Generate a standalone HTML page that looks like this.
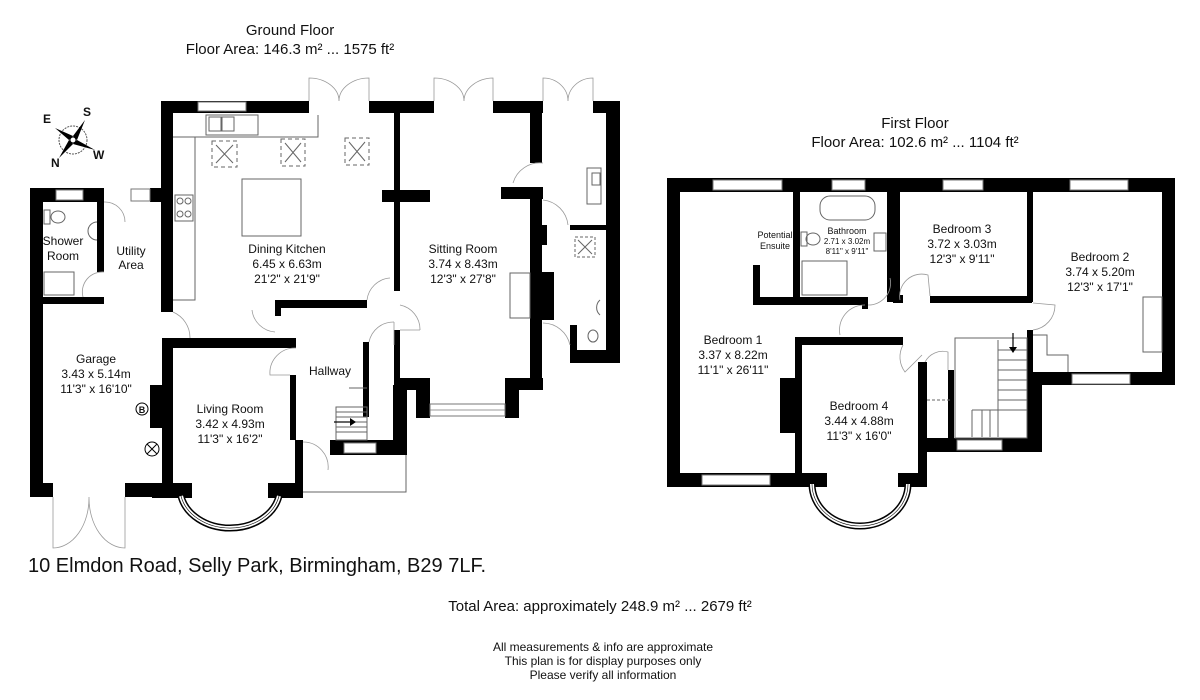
<!DOCTYPE html>
<html><head><meta charset="utf-8"><style>
html,body{margin:0;padding:0;background:#fff;}
svg{display:block;}
text{font-family:"Liberation Sans",Arial,sans-serif;fill:#111;}
.w{fill:#000;}
.win{fill:#fff;stroke:#777;stroke-width:1;}
.d{fill:none;stroke:#999;stroke-width:0.8;}
.t{fill:none;stroke:#666;stroke-width:1;}
</style></head><body>
<svg width="1200" height="700" viewBox="0 0 1200 700" xmlns="http://www.w3.org/2000/svg">
<rect width="1200" height="700" fill="#fff"/>
<!-- Titles -->
<text x="290" y="35" font-size="15" text-anchor="middle">Ground Floor</text>
<text x="290" y="54" font-size="15" text-anchor="middle">Floor Area: 146.3 m² ... 1575 ft²</text>
<text x="915" y="128" font-size="15" text-anchor="middle">First Floor</text>
<text x="915" y="147" font-size="15" text-anchor="middle">Floor Area: 102.6 m² ... 1104 ft²</text>
<text x="28" y="572" font-size="20">10 Elmdon Road, Selly Park, Birmingham, B29 7LF.</text>
<text x="600" y="611" font-size="15" text-anchor="middle">Total Area: approximately 248.9 m² ... 2679 ft²</text>
<text x="603" y="651" font-size="12" text-anchor="middle">All measurements &amp; info are approximate</text>
<text x="603" y="665" font-size="12" text-anchor="middle">This plan is for display purposes only</text>
<text x="603" y="679" font-size="12" text-anchor="middle">Please verify all information</text>

<!-- Compass -->
<g transform="translate(73,140)">
<circle r="14" fill="none" stroke="#555" stroke-width="1" stroke-dasharray="2,1"/>
<polygon points="0,-4 -18,-12 -4,0" fill="#000"/>
<polygon points="0,-4 12,-20 4,0" fill="#000"/>
<polygon points="4,0 22,10 0,4" fill="#000"/>
<polygon points="0,4 -14,18 -4,0" fill="#000"/>
<circle r="3" fill="#fff" stroke="#000"/>
<text x="-30" y="-17" font-size="12" font-weight="bold" font-family="Liberation Serif">E</text>
<text x="10" y="-24" font-size="12" font-weight="bold" font-family="Liberation Serif">S</text>
<text x="-22" y="27" font-size="12" font-weight="bold" font-family="Liberation Serif">N</text>
<text x="20" y="19" font-size="12" font-weight="bold" font-family="Liberation Serif">W</text>
</g>

<!-- ================= GROUND FLOOR ================= -->
<!-- top walls -->
<rect class="w" x="161" y="101" width="148" height="12"/>
<rect class="win" x="198" y="102" width="48" height="9"/>
<rect class="w" x="369" y="101" width="31" height="12"/>
<rect class="w" x="399" y="101" width="35" height="12"/>
<rect class="w" x="493" y="101" width="50" height="12"/>
<rect class="w" x="593" y="101" width="27" height="12"/>
<!-- french doors -->
<path class="d" d="M309,101 L309,78 A30,23 0 0 1 339,101 M369,101 L369,78 A30,23 0 0 0 339,101"/>
<path class="d" d="M434,101 L434,78 A30,23 0 0 1 464,101 M493,101 L493,78 A30,23 0 0 0 464,101"/>
<path class="d" d="M543,101 L543,78 A25,23 0 0 1 568,101 M593,101 L593,78 A25,23 0 0 0 568,101"/>
<!-- kitchen left wall -->
<rect class="w" x="161" y="101" width="12" height="211"/>
<!-- utility top -->
<rect class="w" x="150" y="188" width="12" height="14"/>
<rect class="win" x="131" y="189" width="19" height="12"/>
<!-- kitchen/sitting -->
<rect class="w" x="382" y="190" width="48" height="12"/>
<rect class="w" x="394" y="101" width="6" height="190"/>
<rect class="w" x="394" y="330" width="6" height="70"/>
<!-- sitting right wall -->
<rect class="w" x="530" y="101" width="12" height="62"/>
<rect class="w" x="501" y="187" width="42" height="12"/>
<rect class="w" x="530" y="190" width="12" height="200"/>
<rect class="w" x="542" y="272" width="12" height="48"/>
<!-- annex -->
<rect class="w" x="606" y="101" width="14" height="262"/>
<rect class="w" x="570" y="225" width="50" height="5"/>
<rect class="w" x="570" y="350" width="50" height="13"/>
<rect class="w" x="570" y="325" width="7" height="38"/>
<rect class="w" x="542" y="225" width="5" height="20"/>
<path class="d" d="M543,163 A28,28 0 0 0 513,183 M543,200 A28,28 0 0 1 568,225 M543,323 A28,28 0 0 1 570,345"/>
<rect class="t" x="587" y="168" width="14" height="36"/>
<rect class="t" x="592" y="173" width="8" height="12"/>
<rect class="t" x="575" y="237" width="20" height="20" stroke-dasharray="3,2"/>
<path class="t" d="M578,240 L592,254 M592,240 L578,254"/>
<ellipse class="t" cx="593" cy="336" rx="5" ry="6"/>
<path class="t" d="M600,300 A10,10 0 0 0 600,315"/>
<!-- sitting bottom & bay -->
<rect class="w" x="399" y="378" width="31" height="12"/>
<rect class="w" x="505" y="378" width="38" height="12"/>
<rect class="w" x="416" y="388" width="14" height="30"/>
<rect class="w" x="505" y="388" width="14" height="30"/>
<rect class="win" x="430" y="404" width="75" height="12"/>
<line x1="430" y1="410" x2="505" y2="410" stroke="#777" stroke-width="0.8"/>
<rect class="t" x="510" y="273" width="20" height="45"/>
<!-- kitchen fittings -->
<rect class="t" x="206" y="115" width="52" height="20"/>
<rect class="t" x="209" y="117" width="12" height="14"/><rect class="t" x="222" y="117" width="12" height="14"/>
<path class="t" d="M173,137 L318,137 L318,115 M195,137 L195,300 L173,300"/>
<rect class="t" x="175" y="195" width="18" height="26"/>
<circle class="t" cx="180" cy="201" r="3"/><circle class="t" cx="188" cy="201" r="3"/>
<circle class="t" cx="180" cy="214" r="3"/><circle class="t" cx="188" cy="214" r="3"/>
<rect class="t" x="242" y="179" width="59" height="57"/>
<g class="t" stroke-dasharray="4,3">
<rect x="212" y="141" width="25" height="26"/><rect x="281" y="139" width="24" height="27"/><rect x="345" y="138" width="24" height="27"/>
</g>
<path class="t" d="M216,145 L233,163 M233,145 L216,163 M285,143 L301,162 M301,143 L285,162 M349,142 L365,161 M365,142 L349,161"/>
<!-- kitchen/hallway wall -->
<rect class="w" x="275" y="300" width="92" height="8"/>
<rect class="w" x="275" y="300" width="6" height="16"/>
<path class="d" d="M367,300 A25,25 0 0 1 390,278 M252,310 A25,25 0 0 0 275,332 M173,312 A28,28 0 0 1 190,338 M400,305 A25,25 0 0 1 420,330 M400,330 L420,330"/>
<!-- living room -->
<rect class="w" x="162" y="338" width="134" height="10"/>
<rect class="w" x="162" y="338" width="11" height="159"/>
<rect class="w" x="290" y="375" width="6" height="65"/>
<rect class="w" x="295" y="440" width="8" height="52"/>
<rect class="w" x="150" y="385" width="12" height="43"/>
<rect class="w" x="152" y="483" width="40" height="15"/>
<rect class="w" x="268" y="483" width="35" height="15"/>
<path d="M181,496 A50,40 0 0 0 279,496" fill="none" stroke="#000" stroke-width="7"/>
<path d="M181,496 A50,40 0 0 0 279,496" fill="none" stroke="#fff" stroke-width="4"/>
<path d="M181,496 A50,40 0 0 0 279,496" fill="none" stroke="#000" stroke-width="0.6"/>
<path class="d" d="M296,348 A25,25 0 0 0 270,375 L290,375 M303,442 A25,25 0 0 1 328,470"/>
<!-- hallway / stairs -->
<rect class="w" x="363" y="342" width="6" height="75"/>
<rect class="w" x="393" y="385" width="14" height="70"/>
<rect class="w" x="330" y="440" width="77" height="15"/>
<rect class="win" x="344" y="443" width="32" height="10"/>
<rect class="t" x="336" y="407" width="31" height="33"/>
<path class="t" d="M336,412 H367 M336,417 H367 M336,422 H367 M336,427 H367 M336,432 H367 M349,388 H367"/>
<path d="M334,422 L350,422" stroke="#000" stroke-width="1.2"/>
<polygon points="350,418 356,422 350,426"/>
<path class="t" d="M303,492 L406,492 L406,455"/>
<path class="d" d="M369,342 A25,25 0 0 1 394,322 M394,322 L394,345"/>
<!-- garage & shower -->
<rect class="w" x="30" y="188" width="13" height="309"/>
<rect class="w" x="30" y="188" width="74" height="14"/>
<rect class="win" x="56" y="190" width="27" height="10"/>
<rect class="w" x="97" y="188" width="7" height="84"/>
<rect class="w" x="40" y="297" width="64" height="7"/>
<rect class="w" x="30" y="483" width="23" height="14"/>
<rect class="w" x="125" y="483" width="37" height="14"/>
<path class="d" d="M53,497 L53,548 A36,50 0 0 0 89,497 M125,497 L125,548 A36,50 0 0 1 89,497"/>
<path class="d" d="M104,202 A20,20 0 0 1 125,222 M104,272 A20,20 0 0 0 83,297"/>
<rect class="t" x="44" y="272" width="30" height="23"/>
<ellipse class="t" cx="58" cy="217" rx="7" ry="6"/><rect class="t" x="44" y="210" width="6" height="14"/>
<path class="t" d="M97,222 A8,8 0 0 0 97,240"/>
<circle cx="142" cy="409" r="6" fill="#fff" stroke="#000"/>
<text x="142" y="413" font-size="9" font-weight="bold" text-anchor="middle">B</text>
<circle cx="152" cy="449" r="7" fill="#fff" stroke="#000"/>
<path d="M147,444 L157,454 M157,444 L147,454" stroke="#000"/>

<!-- ground labels -->
<g font-size="12" text-anchor="middle">
<text x="63" y="245">Shower</text><text x="63" y="260">Room</text>
<text x="131" y="255">Utility</text><text x="131" y="269">Area</text>
<text x="287" y="253">Dining Kitchen</text><text x="287" y="268">6.45 x 6.63m</text><text x="287" y="283">21'2" x 21'9"</text>
<text x="463" y="253">Sitting Room</text><text x="463" y="268">3.74 x 8.43m</text><text x="463" y="283">12'3" x 27'8"</text>
<text x="96" y="363">Garage</text><text x="96" y="378">3.43 x 5.14m</text><text x="96" y="393">11'3" x 16'10"</text>
<text x="230" y="413">Living Room</text><text x="230" y="428">3.42 x 4.93m</text><text x="230" y="443">11'3" x 16'2"</text>
<text x="330" y="375">Hallway</text>
</g>

<!-- ================= FIRST FLOOR ================= -->
<rect class="w" x="667" y="178" width="508" height="14"/>
<rect class="win" x="713" y="180" width="69" height="10"/>
<rect class="win" x="832" y="180" width="33" height="10"/>
<rect class="win" x="943" y="180" width="40" height="10"/>
<rect class="win" x="1070" y="180" width="58" height="10"/>
<rect class="w" x="667" y="178" width="13" height="309"/>
<rect class="w" x="667" y="473" width="140" height="14"/>
<rect class="win" x="702" y="475" width="68" height="10"/>
<rect class="w" x="795" y="337" width="7" height="150"/>
<rect class="w" x="780" y="378" width="15" height="55"/>
<!-- ensuite/bath -->
<rect class="w" x="753" y="265" width="7" height="40"/>
<rect class="w" x="753" y="297" width="115" height="8"/>
<rect class="w" x="862" y="297" width="6" height="12"/>
<rect class="w" x="793" y="192" width="7" height="105"/>
<rect class="w" x="887" y="192" width="10" height="110"/>
<rect class="w" x="893" y="192" width="7" height="110"/>
<rect class="w" x="893" y="295" width="10" height="8"/>
<rect class="t" x="820" y="196" width="55" height="24" rx="10"/>
<rect class="t" x="801" y="232" width="6" height="14"/><ellipse class="t" cx="813" cy="239" rx="7" ry="6"/>
<rect class="t" x="802" y="261" width="45" height="34"/>
<rect class="t" x="874" y="233" width="12" height="18"/>
<!-- bed3 -->
<rect class="w" x="930" y="296" width="102" height="7"/>
<rect class="w" x="1027" y="192" width="6" height="110"/>
<path class="d" d="M868,305 A22,22 0 0 0 890,278 M900,300 A22,22 0 0 1 928,275 L930,296 M840,335 A25,25 0 0 1 865,305 M1033,330 A25,25 0 0 0 1055,305 L1033,303"/>
<!-- bed2 right -->
<rect class="w" x="1162" y="178" width="13" height="207"/>
<rect class="w" x="1027" y="372" width="148" height="13"/>
<rect class="win" x="1072" y="374" width="58" height="10"/>
<rect class="w" x="1027" y="330" width="6" height="55"/>
<rect class="t" x="1143" y="297" width="19" height="55"/>
<path class="t" d="M1033,335 L1047,335 L1047,355 L1068,355 L1068,372"/>
<!-- bed4 -->
<rect class="w" x="795" y="337" width="108" height="8"/>
<path class="d" d="M903,345 A25,25 0 0 0 905,372 L922,355 M925,362 A20,20 0 0 1 948,352 L948,370"/>
<rect class="w" x="918" y="362" width="9" height="111"/>
<rect class="w" x="948" y="370" width="6" height="68"/>
<rect class="w" x="898" y="473" width="29" height="14"/>
<rect class="w" x="797" y="473" width="30" height="14"/>
<rect class="w" x="925" y="438" width="117" height="14"/>
<rect class="win" x="957" y="440" width="45" height="10"/>
<rect class="w" x="1027" y="385" width="15" height="67"/>
<line x1="927" y1="400" x2="950" y2="400" stroke="#666" stroke-dasharray="3,2"/>
<rect class="t" x="955" y="338" width="72" height="100"/>
<path class="t" d="M998,340 V437 M998,350 H1027 M998,360 H1027 M998,370 H1027 M998,380 H1027 M998,390 H1027 M998,400 H1027 M998,410 H1027 M972,410 V437 M972,410 H998 M982,410 V437 M990,410 V437"/>
<path d="M1013,333 V347" stroke="#000" stroke-width="1.2"/><polygon points="1009,347 1017,347 1013,353"/>
<path d="M812,484 A48,42 0 0 0 908,484" fill="none" stroke="#000" stroke-width="7"/>
<path d="M812,484 A48,42 0 0 0 908,484" fill="none" stroke="#fff" stroke-width="4"/>
<path d="M812,484 A48,42 0 0 0 908,484" fill="none" stroke="#000" stroke-width="0.6"/>

<g text-anchor="middle">
<text x="775" y="238" font-size="9">Potential</text><text x="775" y="249" font-size="9">Ensuite</text>
<text x="847" y="234" font-size="9">Bathroom</text><text x="847" y="244" font-size="8">2.71 x 3.02m</text><text x="847" y="254" font-size="8">8'11" x 9'11"</text>
<g font-size="12">
<text x="962" y="233">Bedroom 3</text><text x="962" y="248">3.72 x 3.03m</text><text x="962" y="263">12'3" x 9'11"</text>
<text x="1100" y="261">Bedroom 2</text><text x="1100" y="276">3.74 x 5.20m</text><text x="1100" y="291">12'3" x 17'1"</text>
<text x="733" y="344">Bedroom 1</text><text x="733" y="359">3.37 x 8.22m</text><text x="733" y="374">11'1" x 26'11"</text>
<text x="859" y="410">Bedroom 4</text><text x="859" y="425">3.44 x 4.88m</text><text x="859" y="440">11'3" x 16'0"</text>
</g></g>
</svg>
</body></html>
